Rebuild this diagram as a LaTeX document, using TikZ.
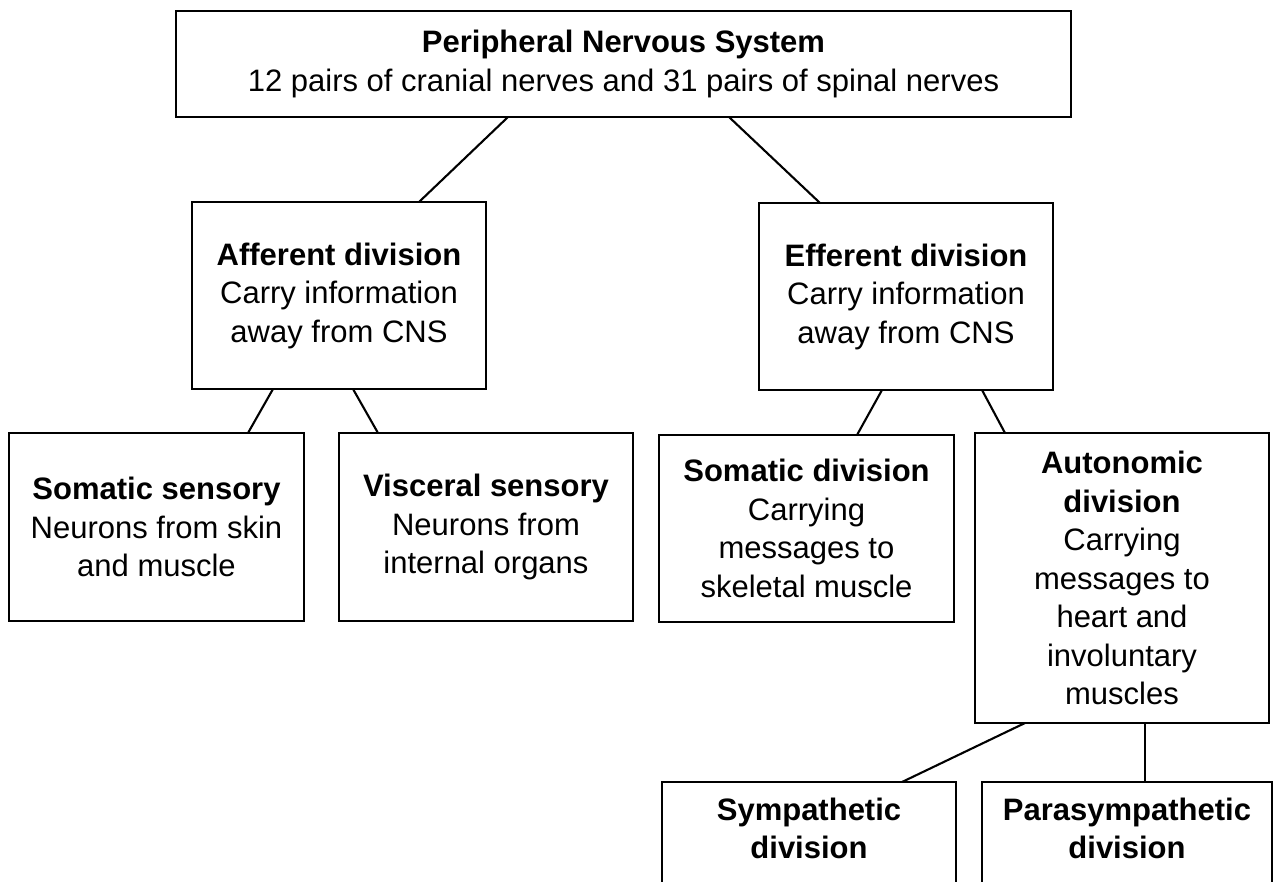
\documentclass[tikz,border=0pt]{standalone}
\usepackage{fontspec}
\setmainfont{Liberation Sans}
\begin{document}
\begin{tikzpicture}[x=1pt,y=-1pt,
  box/.style={draw=black, line width=2.6pt, anchor=north west, inner sep=0pt, outer sep=0pt,
    align=flush center, font=\fontsize{31}{38.5}\selectfont},
  openbox/.style={box, inner ysep=15.5pt, text height=22.5pt, text depth=130pt},
  link/.style={draw=black, line width=2.1pt}
]
\fill[white] (0,0) rectangle (1274,881);
\useasboundingbox (0,0) rectangle (1274,881);
\clip (0,0) rectangle (1274,881);

\node[box, minimum width=895pt, minimum height=106pt, text width=880pt] (pns) at (176,11)
  {\textbf{Peripheral Nervous System}\\12 pairs of cranial nerves and 31 pairs of spinal nerves};

\node[box, minimum width=294pt, minimum height=187pt, text width=286pt] (aff) at (192,202)
  {\textbf{Afferent division}\\Carry information\\away from CNS};
\node[box, minimum width=294pt, minimum height=187pt, text width=286pt] (eff) at (759,203)
  {\textbf{Efferent division}\\Carry information\\away from CNS};

\node[box, minimum width=295pt, minimum height=188pt, text width=287pt] (ssen) at (9,433)
  {\textbf{Somatic sensory}\\Neurons from skin\\and muscle};
\node[box, minimum width=294pt, minimum height=188pt, text width=286pt] (vsen) at (339,433)
  {\textbf{Visceral sensory}\\Neurons from\\internal organs};
\node[box, minimum width=295pt, minimum height=187pt, text width=287pt] (sdiv) at (659,435)
  {\textbf{Somatic division}\\Carrying\\messages to\\skeletal muscle};
\node[box, minimum width=294pt, minimum height=290pt, text width=286pt] (adiv) at (975,433)
  {\textbf{Autonomic}\\\textbf{division}\\Carrying\\messages to\\heart and\\involuntary\\muscles};

\node[openbox, minimum width=294pt, text width=286pt] (symp) at (662,782)
  {\textbf{Sympathetic}\\\textbf{division}};
\node[openbox, minimum width=290pt, text width=282pt] (para) at (982,782)
  {\textbf{Parasympathetic}\\\textbf{division}};

\draw[link] ([xshift=-115.5pt]pns.south) -- ([xshift=80pt]aff.north);
\draw[link] ([xshift=105.5pt]pns.south) -- ([xshift=-86pt]eff.north);
\draw[link] ([xshift=-66pt]aff.south) -- ([xshift=91.5pt]ssen.north);
\draw[link] ([xshift=14pt]aff.south) -- ([xshift=-108pt]vsen.north);
\draw[link] ([xshift=-24pt]eff.south) -- ([xshift=50.5pt]sdiv.north);
\draw[link] ([xshift=76pt]eff.south) -- ([xshift=-117pt]adiv.north);
\draw[link] ([xshift=-97pt]adiv.south) -- ([xshift=93pt]symp.north);
\draw[link] ([xshift=23pt]adiv.south) -- ([xshift=18pt]para.north);
\end{tikzpicture}
\end{document}
